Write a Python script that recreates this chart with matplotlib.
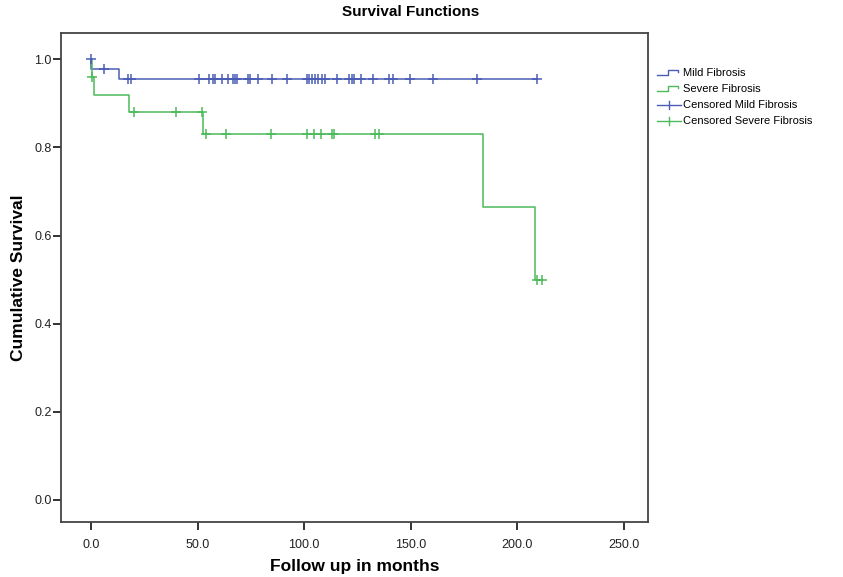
import numpy as np
import matplotlib
matplotlib.use("Agg")
import matplotlib.pyplot as plt
from matplotlib.legend_handler import HandlerBase
from matplotlib.lines import Line2D

plt.rcParams['font.family'] = ['Liberation Sans', 'DejaVu Sans']

# ---- data ----
# Kaplan-Meier steps: (time, survival after the step)
mild_times = [0.0, 13.3]
mild_surv = [0.977, 0.955]
mild_cens_t = [0.0, 6.2, 17.5, 18.8, 50.8, 55.5, 57.1, 58.3, 61.4, 64.4, 66.5, 67.4,
               68.6, 73.5, 74.6, 78.3, 85.0, 91.8, 101.3, 102.4, 103.8, 105.1, 106.3,
               108.2, 109.8, 115.2, 121.0, 122.3, 123.4, 126.6, 132.1, 139.9, 141.8,
               149.6, 160.6, 180.9, 209.0]

severe_times = [0.3, 1.5, 17.8, 52.7, 183.7, 208.3]
severe_surv = [0.96, 0.92, 0.88, 0.83, 0.665, 0.50]
severe_cens_t = [0.6, 20.2, 39.7, 52.1, 53.8, 63.2, 84.3, 101.3, 104.6, 107.9, 112.9,
                 114.1, 133.2, 135.2, 209.0, 211.5]

xticks = [0, 50, 100, 150, 200, 250]
yticks = [0.0, 0.2, 0.4, 0.6, 0.8, 1.0]

blue = '#4a5cb5'
green = '#4cbb5a'


def km_curve(times, surv, end):
    xs, ys = [0.0], [1.0]
    cur = 1.0
    for t, s in zip(times, surv):
        xs += [t, t]
        ys += [cur, s]
        cur = s
    xs.append(end)
    ys.append(cur)
    return np.array(xs), np.array(ys)


def surv_at(times, surv, t):
    cur = 1.0
    for ti, s in zip(times, surv):
        if t >= ti:
            cur = s
    return cur


class StepHandler(HandlerBase):
    # little step-shaped line like the SPSS legend
    def create_artists(self, legend, orig_handle, xdescent, ydescent,
                       width, height, fontsize, trans):
        x = np.array([0, 0.45, 0.45, 0.85, 0.85]) * width - xdescent
        y = np.array([0.1, 0.1, 0.75, 0.75, 0.5]) * height - ydescent
        ln = Line2D(x, y, color=orig_handle.get_color(), lw=1.0, transform=trans)
        return [ln]


class CensorHandler(HandlerBase):
    # horizontal line with a vertical tick in the middle
    def create_artists(self, legend, orig_handle, xdescent, ydescent,
                       width, height, fontsize, trans):
        c = orig_handle.get_color()
        h = Line2D(np.array([0, width]) - xdescent,
                   np.array([0.4, 0.4]) * height - ydescent,
                   color=c, lw=1.0, transform=trans)
        v = Line2D(np.array([0.5, 0.5]) * width - xdescent,
                   np.array([-0.15, 0.95]) * height - ydescent,
                   color=c, lw=1.0, transform=trans)
        return [h, v]


fig = plt.figure(figsize=(8.43, 5.77), dpi=100)
ax = fig.add_axes([61.3 / 843, 1 - 522 / 577, (648.3 - 61.3) / 843, (522 - 33.3) / 577])

mx, my = km_curve(mild_times, mild_surv, max(mild_cens_t))
sx, sy = km_curve(severe_times, severe_surv, max(severe_cens_t))
l1, = ax.plot(mx, my, color=blue, lw=1.1)
l2, = ax.plot(sx, sy, color=green, lw=1.1)

mc_y = [1.0 if t == 0 else surv_at(mild_times, mild_surv, t) for t in mild_cens_t]
sc_y = [surv_at(severe_times, severe_surv, t) for t in severe_cens_t]
c1, = ax.plot(mild_cens_t, mc_y, ls='none', marker='+', ms=7, mew=1.1, color=blue)
c2, = ax.plot(severe_cens_t, sc_y, ls='none', marker='+', ms=7, mew=1.1, color=green)

ax.set_xlim(-13.9, 261.4)
ax.set_ylim(-0.05, 1.059)
ax.set_xticks(xticks)
ax.set_xticklabels([f'{v:.1f}' for v in xticks])
ax.set_yticks(yticks)
ax.set_yticklabels([f'{v:.1f}' for v in yticks])
ax.tick_params(axis='both', direction='out', length=6, width=1.4, colors='#333333',
               labelsize=9, labelcolor='#222222')
ax.tick_params(axis='x', pad=6)
ax.tick_params(axis='y', pad=1)
for sp in ax.spines.values():
    sp.set_color('#444444')
    sp.set_linewidth(1.3)

ax.set_xlabel('Follow up in months', fontsize=12.5, fontweight='bold', labelpad=6)
ax.set_ylabel('Cumulative Survival', fontsize=12.5, fontweight='bold', labelpad=6)
fig.text(411 / 843, 1 - 12 / 577, 'Survival Functions', ha='center', va='center',
         fontsize=11, fontweight='bold')

fig.legend([l1, l2, c1, c2],
           ['Mild Fibrosis', 'Severe Fibrosis', 'Censored Mild Fibrosis',
            'Censored Severe Fibrosis'],
           handler_map={l1: StepHandler(), l2: StepHandler(),
                        c1: CensorHandler(), c2: CensorHandler()},
           loc='upper left', bbox_to_anchor=(657 / 843, 1 - 68 / 577),
           frameon=False, fontsize=8, handlelength=2.2, handletextpad=0.15,
           labelspacing=0.55, borderaxespad=0, borderpad=0)

fig.savefig('out.png', dpi=100)
